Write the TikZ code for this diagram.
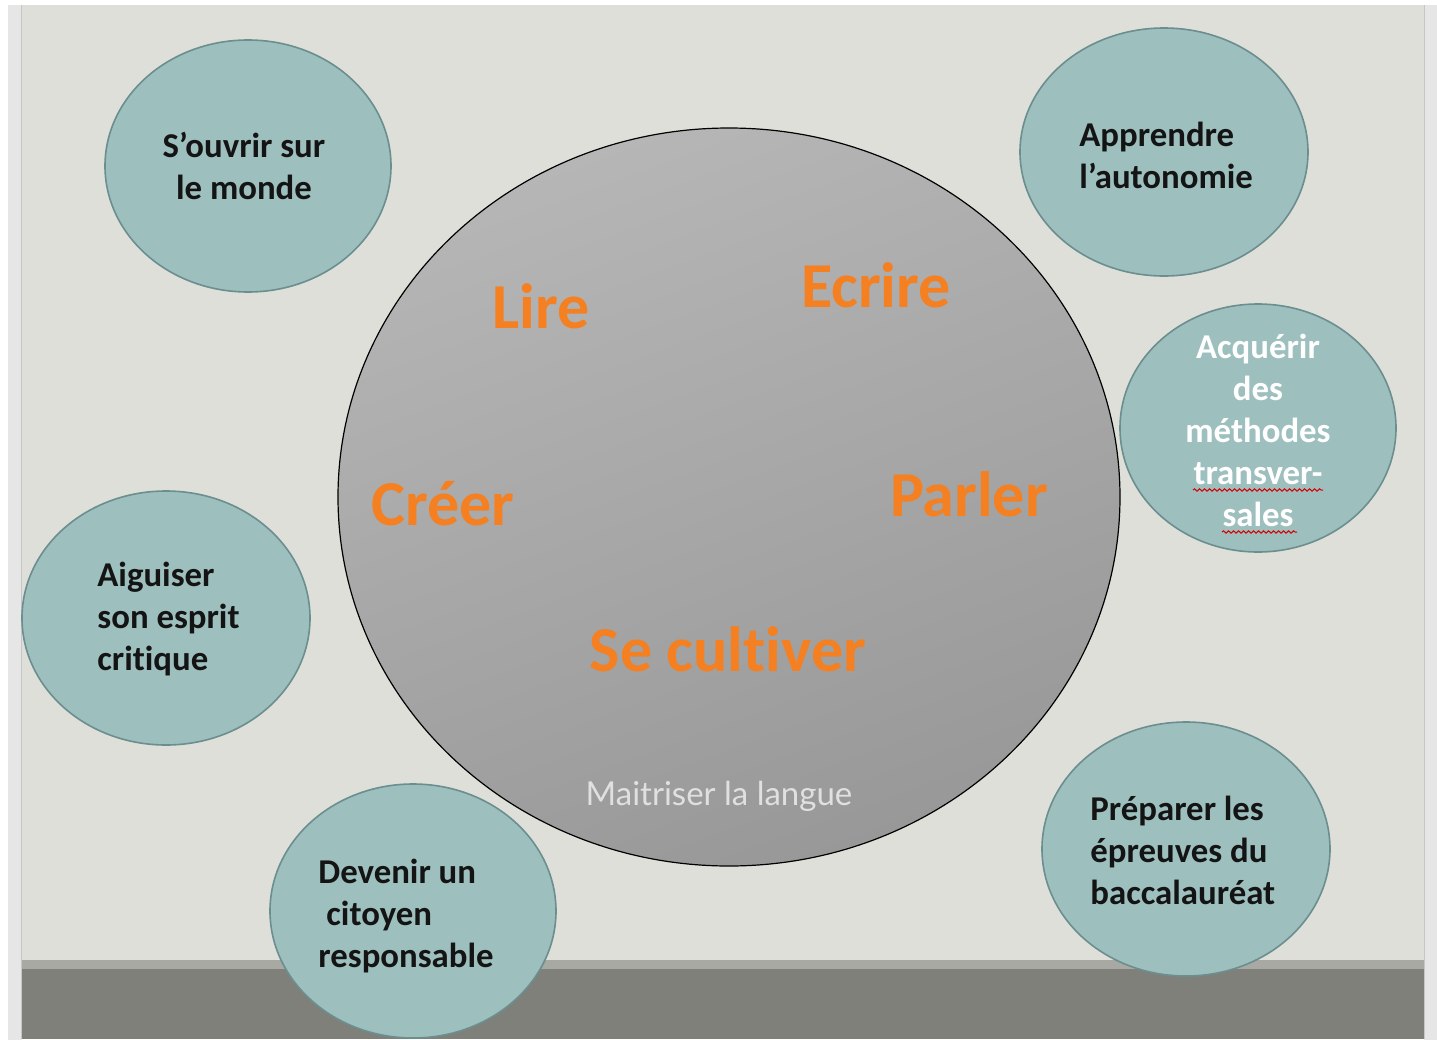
\documentclass[tikz,border=0pt]{standalone}
\usepackage{fontspec}
\setmainfont{Carlito}[Ligatures=NoCommon]
\newfontfamily\latofont{Lato}
\usetikzlibrary{shapes.geometric,decorations.pathmorphing}
\definecolor{pagebg}{RGB}{223,223,218}
\definecolor{sidestrip}{RGB}{230,230,230}
\definecolor{sideline}{RGB}{198,198,198}
\definecolor{barlight}{RGB}{169,169,164}
\definecolor{bardark}{RGB}{128,128,122}
\definecolor{bubblefill}{RGB}{157,191,190}
\definecolor{bubbleedge}{RGB}{107,142,142}
\definecolor{wordorange}{RGB}{244,128,34}
\definecolor{circtop}{RGB}{182,182,182}
\definecolor{circbot}{RGB}{152,152,152}
\tikzset{
  bubble/.style={ellipse, draw=bubbleedge, line width=0.8pt, fill=bubblefill, inner sep=0pt},
  bubbletext/.style={font=\fontsize{17.4}{21}\selectfont\bfseries, text=black!92, inner sep=0pt},
  wordtext/.style={font=\fontsize{32}{36}\selectfont\bfseries, text=wordorange, inner sep=0pt},
  spellmark/.style={draw=red!85!black, line width=0.5pt, decorate, decoration={snake, amplitude=0.6pt, segment length=2.5pt}}
}
\begin{document}
\begin{tikzpicture}[x=0.5pt,y=-0.5pt]
\useasboundingbox (0,0) rectangle (1437,1040);
% page background
\fill[white] (0,0) rectangle (1437,1040);
\fill[sidestrip] (8,5) rectangle (22,1040);
\fill[sidestrip] (1424,5) rectangle (1437,1040);
\fill[pagebg] (22,5) rectangle (1424,1039);
\draw[sideline, line width=0.8pt] (21.5,5) -- (21.5,1039);
\draw[sideline, line width=0.8pt] (1424.5,5) -- (1424.5,1039);
% bottom bar
\fill[barlight] (22,960) rectangle (1424,969);
\fill[bardark] (22,969) rectangle (1424,1039);

% central circle
\node[ellipse, draw=black, line width=0.6pt, minimum width=391pt, minimum height=369pt,
      inner sep=0pt, top color=circtop, bottom color=circbot, shading angle=20] (core) at (729,497) {};

% orange words
\node[wordtext] (lire) at (541,306) {Lire};
\node[wordtext] (ecrire) at (876,285) {Ecrire};
\node[wordtext] (creer) at (443,504) {Créer};
\node[wordtext] (parler) at (969,494) {Parler};
\node[wordtext] (cultiver) at (728,649) {Se cultiver};

% subtitle
\node[font=\latofont\fontsize{16.5}{19}\selectfont, text=white!88!black, inner sep=0pt] (maitriser) at (719,796) {Maitriser la langue};

% bubbles
\node[bubble, minimum width=143pt, minimum height=126pt] (ouvrir) at (248,166) {};
\node[bubbletext, align=center] (ouvrirtxt) at (244,166) {S’ouvrir sur\\le monde};

\node[bubble, minimum width=144pt, minimum height=124pt] (autonomie) at (1164,152) {};
\node[bubbletext, align=left, anchor=west] (autonomietxt) at (1079,155) {Apprendre\\l’autonomie};

\node[bubble, minimum width=138pt, minimum height=124pt] (methodes) at (1258,428) {};
\node[bubbletext, align=center, text=white] (methodestxt) at (1258,430) {Acquérir\\des\\méthodes\\transver-\\sales};
\draw[spellmark] (1193,490) -- (1323,490);
\draw[spellmark] (1222,532) -- (1297,532);

\node[bubble, minimum width=144pt, minimum height=127pt] (critique) at (166,618) {};
\node[bubbletext, align=left, anchor=west] (critiquetxt) at (97,619) {Aiguiser\\son esprit\\critique};

\node[bubble, minimum width=143pt, minimum height=127pt] (citoyen) at (413,911) {};
\node[bubbletext, align=left, anchor=west] (citoyentxt) at (318,916) {Devenir un\\\hspace*{4pt}citoyen\\responsable};

\node[bubble, minimum width=144pt, minimum height=127pt] (bac) at (1186,849) {};
\node[bubbletext, align=left, anchor=west] (bactxt) at (1090,850) {Préparer les\\épreuves du\\baccalauréat};
\end{tikzpicture}
\end{document}
